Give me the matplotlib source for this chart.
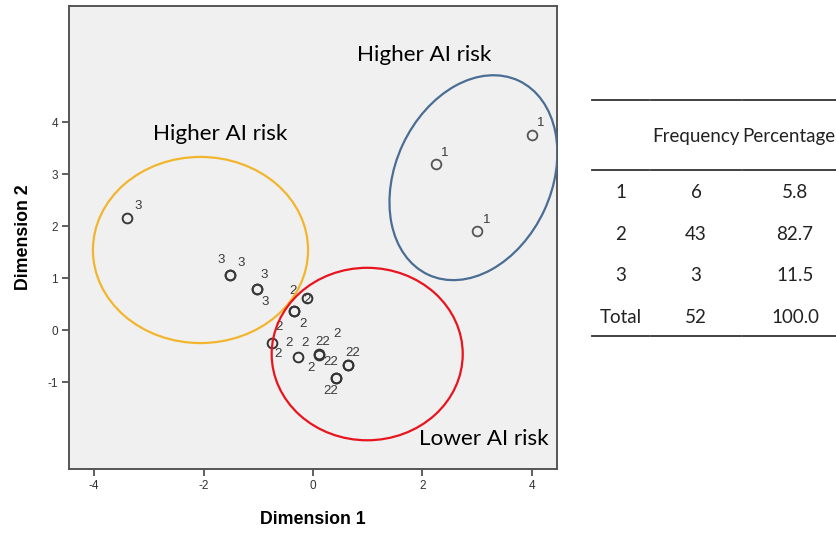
import matplotlib
matplotlib.use("Agg")
import matplotlib.pyplot as plt
from matplotlib.patches import Ellipse
from matplotlib.transforms import Affine2D

plt.rcParams["axes.unicode_minus"] = False

# --- cluster members (Dimension 1, Dimension 2) ---
c1_x = [3.995, 2.247, 3.000]
c1_y = [3.750, 3.190, 1.904]

c3_x = [-3.390, -1.516, -1.510, -1.028, -1.022]
c3_y = [2.160, 1.058, 1.064, 0.783, 0.789]

c2_x = [-0.115, -0.347, -0.340, -0.754, -0.279, 0.104, 0.110, 0.634, 0.640, 0.420, 0.426]
c2_y = [0.620, 0.370, 0.377, -0.240, -0.510, -0.470, -0.464, -0.670, -0.664, -0.930, -0.924]

# --- case labels (cluster membership) ---
lab_x = [4.164, 2.410, 3.170,
         -3.190, -1.680, -1.320, -0.890, -0.877,
         -0.360, -0.115, -0.190, -0.620, -0.430, -0.146, 0.170, 0.440,
         -0.634, -0.042, 0.330, 0.725, 0.323]
lab_y = [3.980, 3.410, 2.115,
         2.385, 1.346, 1.283, 1.058, 0.538,
         0.750, 0.580, 0.115, 0.063, -0.240, -0.240, -0.225, -0.077,
         -0.467, -0.737, -0.620, -0.437, -1.173]
lab_txt = ["1", "1", "1",
           "3", "3", "3", "3", "3",
           "2", "2", "2", "2", "2", "2", "22", "2",
           "2", "2", "22", "22", "22"]

# --- cluster summary table ---
tbl_cluster = ["1", "2", "3", "Total"]
tbl_freq = ["6", "43", "3", "52"]
tbl_pct = ["5.8", "82.7", "11.5", "100.0"]

W, H = 837, 533
fig = plt.figure(figsize=(W / 100, H / 100), dpi=100)
fig.patch.set_facecolor("white")

ax_l, ax_r, ax_t, ax_b = 69, 557, 6, 468.5
ax = fig.add_axes([ax_l / W, (H - ax_b) / H, (ax_r - ax_l) / W, (ax_b - ax_t) / H])
ax.set_facecolor("#F0F0F0")
ax.set_xlim(-4.457, 4.457)
ax.set_ylim(-2.66, 6.23)

for s in ax.spines.values():
    s.set_color("#555555")
    s.set_linewidth(1.4)

ax.set_xticks([-4, -2, 0, 2, 4])
ax.set_yticks([-1, 0, 1, 2, 3, 4])
ax.tick_params(axis="both", direction="out", length=5, width=1.2, color="#444444",
               labelsize=8.5, labelcolor="#333333", pad=3)
for t in ax.get_xticklabels() + ax.get_yticklabels():
    t.set_fontfamily("Liberation Sans")

ax.set_xlabel("Dimension 1", fontsize=12.8, fontweight="bold", fontfamily="Liberation Sans",
              labelpad=14)
ax.set_ylabel("Dimension 2", fontsize=12.8, fontweight="bold", fontfamily="Liberation Sans",
              labelpad=11)

# cases
ax.plot(c1_x, c1_y, "o", ms=7, mfc="none", mec="#555555", mew=1.3, zorder=3)
ax.plot(c3_x, c3_y, "o", ms=7, mfc="none", mec="#3a3a3a", mew=1.4, zorder=3)
ax.plot(c2_x, c2_y, "o", ms=7, mfc="none", mec="#333333", mew=1.4, zorder=3)

for x, y, t in zip(lab_x, lab_y, lab_txt):
    ax.text(x, y, t, fontsize=9.5, color="#3a3a3a", ha="center", va="center",
            fontfamily="Liberation Sans", zorder=3)

# cluster outlines, built in pixel-isotropic units (x-data units), then stretched to data
fig.canvas.draw()
bbox = ax.get_window_extent()
px_per_x = bbox.width / (ax.get_xlim()[1] - ax.get_xlim()[0])
px_per_y = bbox.height / (ax.get_ylim()[1] - ax.get_ylim()[0])
ratio = px_per_x / px_per_y


def outline(cx, cy, w, h, angle, color):
    e = Ellipse((0, 0), w, h, angle=angle, fill=False, edgecolor=color, lw=1.6, zorder=4)
    e.set_transform(Affine2D().scale(1, ratio).translate(cx, cy) + ax.transData)
    ax.add_patch(e)


outline(-2.055, 1.54, 3.93, 3.40, 0, "#F2B62E")
outline(0.99, -0.46, 3.49, 3.15, 0, "#E8141E")
outline(2.93, 2.93, 2.85, 3.91, -25, "#4A6D94")

# region annotations
ann_font = dict(fontsize=16.2, color="black", ha="center", va="center", fontfamily="Lato", zorder=5)
ax.text(2.03, 5.29, "Higher AI risk", **ann_font)
ax.text(-1.70, 3.77, "Higher AI risk", **ann_font)
ax.text(3.12, -2.10, "Lower AI risk", **ann_font)

# summary table drawn in figure pixels
def fx(px):
    return px / W


def fy(py):
    return 1 - py / H


col_x = [621, 696, 795]
col_spans = [(592, 649), (651, 741), (743, 837)]
for yy in (100, 169.5, 336):
    for a, b in col_spans:
        fig.add_artist(plt.Line2D([fx(a), fx(b)], [fy(yy), fy(yy)], color="#333333", lw=1.3))

tbl_font = dict(fontsize=13.5, color="#222222", ha="center", va="center", fontfamily="Lato")
fig.text(fx(696), fy(136.5), "Frequency", **tbl_font)
fig.text(fx(742), fy(136.5), "Percentage", **{**tbl_font, "ha": "left"})
row_y = [192.7, 234.3, 275.7, 317.7]
for ry, a, b, c in zip(row_y, tbl_cluster, tbl_freq, tbl_pct):
    fig.text(fx(col_x[0]), fy(ry), a, **tbl_font)
    fig.text(fx(col_x[1]), fy(ry), b, **tbl_font)
    fig.text(fx(col_x[2]), fy(ry), c, **tbl_font)

fig.savefig("out.png", dpi=100)
